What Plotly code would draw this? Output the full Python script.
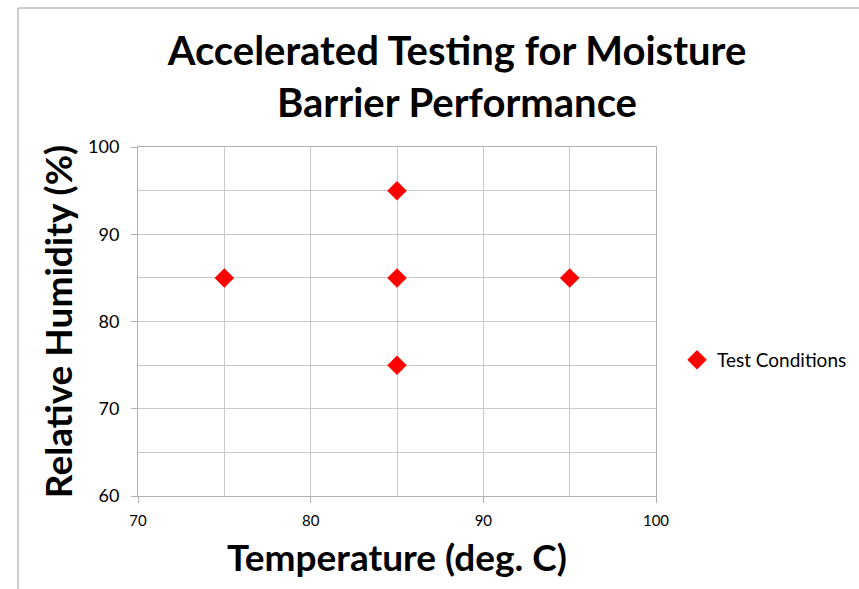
import plotly.graph_objects as go

temperature = [75, 85, 85, 85, 95]
humidity = [85, 95, 85, 75, 85]
series_name = "Test Conditions"

W, H = 859, 589
L, R, T, B = 138, 656, 147, 496
pw, ph = R - L, B - T

def px_x(p):
    return (p - L) / pw

def px_y(p):
    return (B - p) / ph

fig = go.Figure()
fig.add_trace(go.Scatter(
    x=temperature, y=humidity, mode="markers", name=series_name,
    marker=dict(symbol="diamond", size=15, color="#FF0000"),
    showlegend=True,
))

axis_common = dict(
    showline=True, linecolor="#B0B0B0", linewidth=1, mirror=True,
    showgrid=True, gridcolor="#C8C8C8", gridwidth=1,
    ticks="outside", ticklen=6, tickcolor="#B0B0B0",
    zeroline=False,
)

fig.update_layout(
    width=W, height=H,
    margin=dict(l=L, r=W - R, t=T, b=H - B, autoexpand=False),
    paper_bgcolor="white", plot_bgcolor="white",
    font=dict(family="Lato, Carlito, Calibri, sans-serif", color="black"),
    title=dict(
        text="<b>Accelerated Testing for Moisture<br>Barrier Performance</b>",
        x=px_x(457), xanchor="center", xref="paper",
        y=1 - 65 / H, yanchor="middle", yref="container",
        font=dict(size=40),
    ),
    xaxis=dict(
        range=[70, 100], dtick=10, tick0=70,
        minor=dict(dtick=5, showgrid=True, gridcolor="#C8C8C8", ticks=""),
        tickfont=dict(size=15), ticklabelstandoff=5,
        title=dict(text="<b>Temperature (deg. C)</b>", font=dict(size=37), standoff=17),
        **axis_common,
    ),
    yaxis=dict(
        range=[60, 100], dtick=10, tick0=60,
        minor=dict(dtick=5, showgrid=True, gridcolor="#C8C8C8", ticks=""),
        tickfont=dict(size=18), ticklabelstandoff=8,
        title=dict(text="<b>Relative Humidity (%)</b>", font=dict(size=37), standoff=4),
        **axis_common,
    ),
    legend=dict(
        x=px_x(677), y=px_y(360), xanchor="left", yanchor="middle",
        font=dict(size=19), bgcolor="rgba(0,0,0,0)",
    ),
    shapes=[dict(
        type="rect", xref="paper", yref="paper",
        x0=px_x(18), x1=px_x(900), y0=px_y(640), y1=px_y(8),
        line=dict(color="#A0A0A0", width=1), fillcolor="rgba(0,0,0,0)",
        layer="below",
    )],
)

fig.write_html("out.html")
